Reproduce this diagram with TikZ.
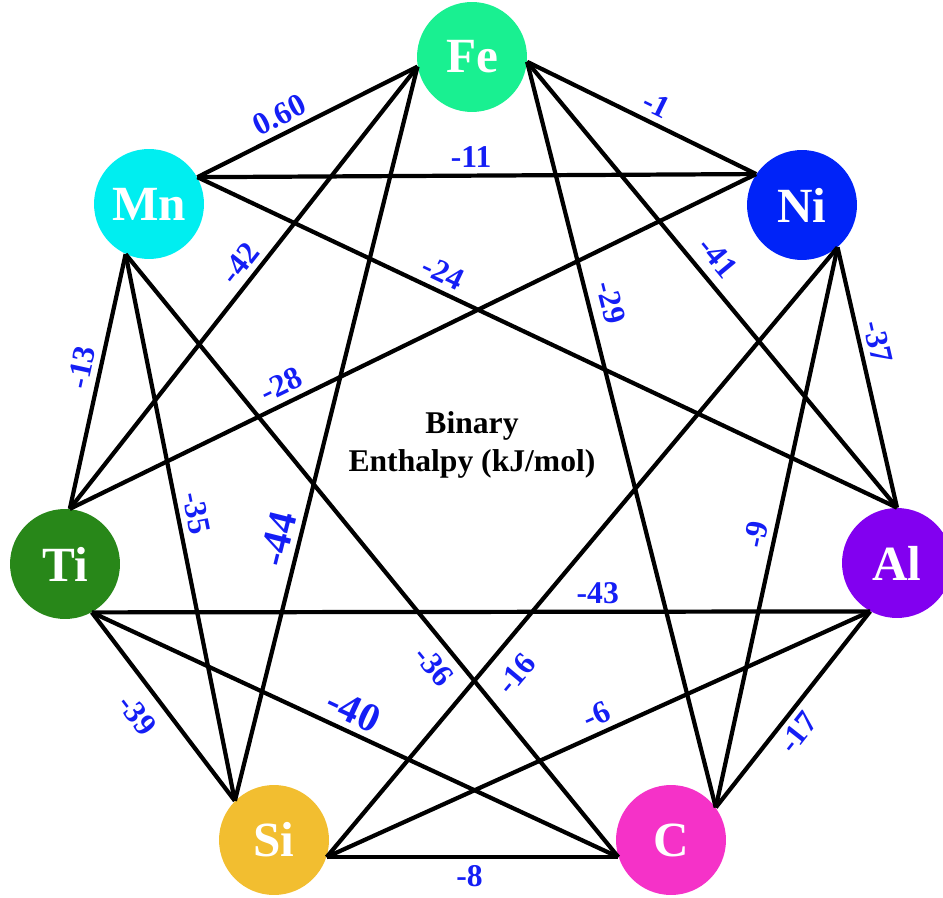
\documentclass[tikz,border=0pt]{standalone}
\usepackage{fontspec}
\setmainfont{Liberation Serif}
\usepackage{tikz}

\definecolor{fecol}{RGB}{25,240,145}
\definecolor{mncol}{RGB}{0,238,240}
\definecolor{nicol}{RGB}{0,35,248}
\definecolor{alcol}{RGB}{130,0,240}
\definecolor{ccol}{RGB}{245,50,200}
\definecolor{sicol}{RGB}{242,190,48}
\definecolor{ticol}{RGB}{40,135,25}
\definecolor{lblcol}{RGB}{20,30,245}

\tikzset{
  elem/.style={circle, minimum size=2.2cm, inner sep=0pt, text=white,
    font=\fontsize{28}{30}\selectfont\bfseries},
  bond/.style={line width=2.4pt},
  lbl/.style={sloped, text=lblcol, font=\fontsize{18}{19}\selectfont\bfseries},
  biglbl/.style={lbl, font=\fontsize{23}{25}\selectfont\bfseries}
}

\begin{document}
\begin{tikzpicture}[x=0.02cm, y=-0.02cm]
        \useasboundingbox (0,0) rectangle (943,898);
        \draw (472, 57) node[elem, fill=fecol](fe) {Fe};
        \draw (149,204) node[elem, fill=mncol](mn) {Mn};
        \draw (802,205) node[elem, fill=nicol](ni) {Ni};
        \draw (65,564) node[elem, fill=ticol](ti) {Ti};
        \draw (897,563) node[elem, fill=alcol](al) {Al};
        \draw (274,840) node[elem, fill=sicol](si) {Si};
        \draw (671,840) node[elem, fill=ccol](c) {C};
        \draw (472,445) node[align=center, font=\fontsize{18}{22}\selectfont\bfseries](title) {Binary\\Enthalpy (kJ/mol)};
        % Fe
        \draw[bond] (mn.29) -- node[lbl, pos=0.41, above]{0.60} (fe.190);
        \draw[bond] (fe.-5) -- node[lbl, pos=0.53, above]{-1} (ni.146);
        \draw[bond] (ti.85) -- node[lbl, pos=0.53, above]{-42} (fe.190);
        \draw[bond] (si.135) -- node[biglbl, pos=0.35, above]{-44} (fe.190);
        \draw[bond] (fe.-5) -- node[lbl, pos=0.47, above=2pt]{-41} (al.90);
        \draw[bond] (fe.-5) -- node[lbl, pos=0.33, above=2pt]{-29} (c.36);
        % Mn
        \draw[bond] (mn.29) -- node[lbl, pos=0.49, above]{-11} (ni.146);
        \draw[bond] (mn.29) -- node[lbl, pos=0.34, above]{-24} (al.90);
        \draw[bond] (mn.245) -- node[lbl, pos=0.46, above]{-13} (ti.85);
        \draw[bond] (mn.245) -- node[lbl, pos=0.48, above]{-35} (si.135);
        \draw[bond] (mn.245) -- node[lbl, pos=0.66, below=2pt]{-36} (c.198);
        % Ni
        \draw[bond] (ni.-50) -- node[lbl, pos=0.38, above]{-37} (al.90);
        \draw[bond] (ti.85) -- node[lbl, pos=0.32, above]{-28} (ni.146);
        \draw[bond] (ni.-50) -- node[lbl, pos=0.52, above]{-9} (c.36);
        \draw[bond] (ni.-50) -- node[lbl, pos=0.67, below=5pt]{-16} (si.-18);
        % Ti, Al, Si, C
        \draw[bond] (ti.-61) -- node[lbl, pos=0.65, above]{-43} (al.241);
        \draw[bond] (ti.-61) -- node[biglbl, pos=0.48, above]{-40} (c.198);
        \draw[bond] (ti.-61) -- node[lbl, pos=0.46, below=4pt]{-39} (si.135);
        \draw[bond] (al.241) -- node[lbl, pos=0.49, above]{-6} (si.-18);
        \draw[bond] (al.241) -- node[lbl, pos=0.56, below]{-17} (c.36);
        \draw[bond] (si.-18) -- node[lbl, pos=0.49, below]{-8} (c.198);
\end{tikzpicture}
\end{document}
